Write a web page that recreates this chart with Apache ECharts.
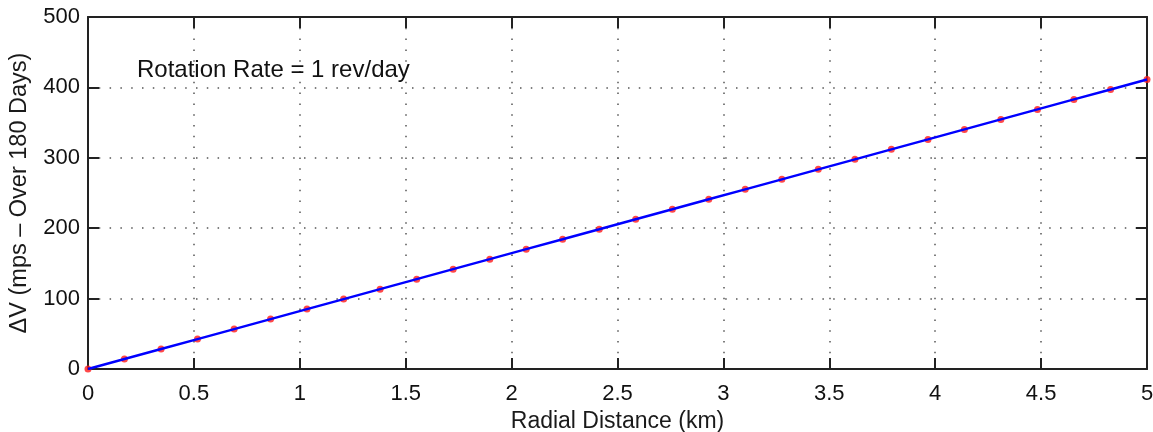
<!DOCTYPE html>
<html>
<head>
<meta charset="utf-8">
<script src="https://cdn.jsdelivr.net/npm/echarts@6/dist/echarts.min.js"></script>
<style>
  html, body { margin: 0; padding: 0; background: #fff; }
  #chart { width: 1153px; height: 432px; }
</style>
</head>
<body>
<div id="chart"></div>
<script>
// Radial distance samples (km)
const radialKm = [0, 0.172, 0.345, 0.517, 0.690, 0.862, 1.034, 1.207, 1.379, 1.552,
  1.724, 1.897, 2.069, 2.241, 2.414, 2.586, 2.759, 2.931, 3.103, 3.276,
  3.448, 3.621, 3.793, 3.966, 4.138, 4.310, 4.483, 4.655, 4.828, 5.0];
// Delta-V accumulated over 180 days (m/s)
const deltaV = [0, 14.2, 28.4, 42.5, 56.7, 70.9, 85.1, 99.3, 113.4, 127.6,
  141.8, 156.0, 170.2, 184.3, 198.5, 212.7, 226.9, 241.1, 255.2, 269.4,
  283.6, 297.8, 312.0, 326.1, 340.3, 354.5, 368.7, 382.9, 397.0, 411.2];
const xTicks = [0, 0.5, 1, 1.5, 2, 2.5, 3, 3.5, 4, 4.5, 5];
const yTicks = [0, 100, 200, 300, 400, 500];
const annotation = 'Rotation Rate = 1 rev/day';
const xName = 'Radial Distance (km)';
const yName = 'ΔV (mps – Over 180 Days)';

const points = radialKm.map((x, i) => [x, deltaV[i]]);
const font = 'Liberation Sans, Arial, Helvetica, sans-serif';

const chart = echarts.init(document.getElementById('chart'), null, { renderer: 'canvas' });

const gridDots = { show: true, lineStyle: { color: '#555', width: 1.5, type: [1.5, 9.3] } };
const frameLine = { show: true, onZero: false, lineStyle: { color: '#222', width: 2 } };
const tickIn = { show: true, inside: true, length: 11, lineStyle: { color: '#222', width: 2 } };

chart.setOption({
  animation: false,
  backgroundColor: '#fff',
  grid: { left: 88, right: 6, top: 17, bottom: 63, containLabel: false, outerBoundsMode: 'none' },
  xAxis: [
    {
      type: 'value', min: 0, max: 5, interval: 0.5,
      name: xName, nameLocation: 'middle', nameGap: 41,
      nameTextStyle: { fontFamily: font, fontSize: 23, color: '#1a1a1a' },
      axisLine: frameLine, axisTick: tickIn, splitLine: gridDots,
      axisLabel: { fontFamily: font, fontSize: 22, color: '#111', margin: 14,
        formatter: v => xTicks.includes(v) ? String(v) : '' }
    },
    {
      type: 'value', position: 'top', min: 0, max: 5, interval: 0.5,
      axisLine: frameLine, axisTick: tickIn, splitLine: { show: false },
      axisLabel: { show: false }
    }
  ],
  yAxis: [
    {
      type: 'value', min: 0, max: 500, interval: 100,
      name: yName, nameLocation: 'middle', nameGap: 56, nameRotate: 90,
      nameTextStyle: { fontFamily: font, fontSize: 23.5, color: '#1a1a1a' },
      axisLine: frameLine, axisTick: tickIn, splitLine: gridDots,
      axisLabel: { fontFamily: font, fontSize: 22, color: '#111', margin: 8,
        formatter: v => yTicks.includes(v) ? String(v) : '' }
    },
    {
      type: 'value', position: 'right', min: 0, max: 500, interval: 100,
      axisLine: frameLine, axisTick: tickIn, splitLine: { show: false },
      axisLabel: { show: false }
    }
  ],
  graphic: [{
    type: 'text', left: 137, top: 58, z: 100,
    style: { text: annotation, fontFamily: font, fontSize: 24, fill: '#111' }
  }],
  series: [
    {
      type: 'scatter', data: points, symbol: 'circle', symbolSize: 7,
      itemStyle: { color: '#ff1a1a' }, z: 3, silent: true
    },
    {
      type: 'line', data: points, showSymbol: false, symbol: 'none',
      lineStyle: { color: '#0000ff', width: 2.4 }, z: 4, silent: true
    }
  ]
});
</script>
</body>
</html>
